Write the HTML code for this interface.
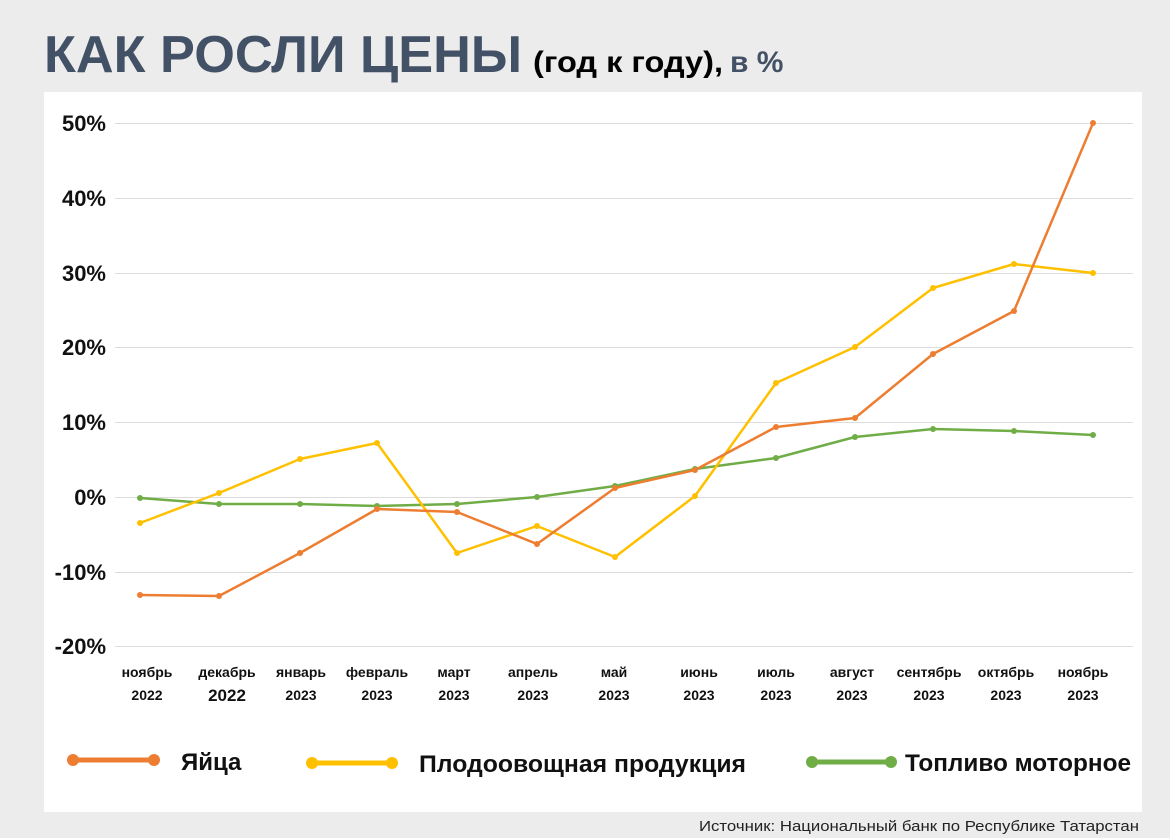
<!DOCTYPE html>
<html><head><meta charset="utf-8"><style>
html,body{margin:0;padding:0;}
body{width:1170px;height:838px;background:#ececec;overflow:hidden;position:relative;font-family:"Liberation Sans","Noto Sans CJK SC",sans-serif;}
</style></head><body>
<svg width="1170" height="838" viewBox="0 0 1170 838" xmlns="http://www.w3.org/2000/svg" style="position:absolute;left:0;top:0">
<rect x="44" y="92" width="1098" height="720" fill="#fff"/>
<text x="44" y="72" font-family="Liberation Sans, sans-serif" font-weight="bold" font-size="52" fill="#435166" textLength="478" lengthAdjust="spacingAndGlyphs">КАК РОСЛИ ЦЕНЫ</text>
<text x="533" y="72" font-family="Liberation Sans, sans-serif" font-weight="bold" font-size="30" fill="#000" textLength="190" lengthAdjust="spacingAndGlyphs">(год к году),</text>
<text x="730" y="72" font-family="Liberation Sans, sans-serif" font-weight="bold" font-size="30" fill="#435166">в %</text>
<g stroke="#dcdcdc" stroke-width="1">
<line x1="115" x2="1133" y1="123.5" y2="123.5"/><line x1="115" x2="1133" y1="198.5" y2="198.5"/>
<line x1="115" x2="1133" y1="273.5" y2="273.5"/><line x1="115" x2="1133" y1="347.5" y2="347.5"/>
<line x1="115" x2="1133" y1="422.5" y2="422.5"/><line x1="115" x2="1133" y1="497.5" y2="497.5"/>
<line x1="115" x2="1133" y1="572.5" y2="572.5"/><line x1="115" x2="1133" y1="646.5" y2="646.5"/>
</g>
<g font-family="Liberation Sans, sans-serif" font-weight="bold" font-size="22" fill="#111" text-anchor="end">
<text x="106" y="131">50%</text><text x="106" y="206">40%</text><text x="106" y="281">30%</text>
<text x="106" y="355">20%</text><text x="106" y="430">10%</text><text x="106" y="505">0%</text>
<text x="106" y="580">-10%</text><text x="106" y="654">-20%</text>
</g>
<g font-family="Liberation Sans, sans-serif" font-weight="bold" font-size="14" fill="#111" text-anchor="middle">
<text x="147" y="677">ноябрь</text><text x="147" y="700">2022</text>
<text x="227" y="677">декабрь</text><text x="227" y="701" font-size="17">2022</text>
<text x="301" y="677">январь</text><text x="301" y="700">2023</text>
<text x="377" y="677">февраль</text><text x="377" y="700">2023</text>
<text x="454" y="677">март</text><text x="454" y="700">2023</text>
<text x="533" y="677">апрель</text><text x="533" y="700">2023</text>
<text x="614" y="677">май</text><text x="614" y="700">2023</text>
<text x="699" y="677">июнь</text><text x="699" y="700">2023</text>
<text x="776" y="677">июль</text><text x="776" y="700">2023</text>
<text x="852" y="677">август</text><text x="852" y="700">2023</text>
<text x="929" y="677">сентябрь</text><text x="929" y="700">2023</text>
<text x="1006" y="677">октябрь</text><text x="1006" y="700">2023</text>
<text x="1083" y="677">ноябрь</text><text x="1083" y="700">2023</text>
</g>
<g fill="none" stroke-width="2.5" stroke-linejoin="round">
<polyline stroke="#70ad47" points="140,498 219,504 300,504 377,506 457,504 537,497 615,486 695,469 776,458 855,437 933,429 1014,431 1093,435"/>
<polyline stroke="#ffc000" points="140,523 219,493 300,459 377,443 457,553 537,526 615,557 695,496 776,383 855,347 933,288 1014,264 1093,273"/>
<polyline stroke="#ed7d31" points="140,595 219,596 300,553 377,509 457,512 537,544 615,488 695,470 776,427 855,418 933,354 1014,311 1093,123"/>
</g>
<g fill="#70ad47"><circle cx="140" cy="498" r="3"/><circle cx="219" cy="504" r="3"/><circle cx="300" cy="504" r="3"/><circle cx="377" cy="506" r="3"/><circle cx="457" cy="504" r="3"/><circle cx="537" cy="497" r="3"/><circle cx="615" cy="486" r="3"/><circle cx="695" cy="469" r="3"/><circle cx="776" cy="458" r="3"/><circle cx="855" cy="437" r="3"/><circle cx="933" cy="429" r="3"/><circle cx="1014" cy="431" r="3"/><circle cx="1093" cy="435" r="3"/></g>
<g fill="#ffc000"><circle cx="140" cy="523" r="3"/><circle cx="219" cy="493" r="3"/><circle cx="300" cy="459" r="3"/><circle cx="377" cy="443" r="3"/><circle cx="457" cy="553" r="3"/><circle cx="537" cy="526" r="3"/><circle cx="615" cy="557" r="3"/><circle cx="695" cy="496" r="3"/><circle cx="776" cy="383" r="3"/><circle cx="855" cy="347" r="3"/><circle cx="933" cy="288" r="3"/><circle cx="1014" cy="264" r="3"/><circle cx="1093" cy="273" r="3"/></g>
<g fill="#ed7d31"><circle cx="140" cy="595" r="3"/><circle cx="219" cy="596" r="3"/><circle cx="300" cy="553" r="3"/><circle cx="377" cy="509" r="3"/><circle cx="457" cy="512" r="3"/><circle cx="537" cy="544" r="3"/><circle cx="615" cy="488" r="3"/><circle cx="695" cy="470" r="3"/><circle cx="776" cy="427" r="3"/><circle cx="855" cy="418" r="3"/><circle cx="933" cy="354" r="3"/><circle cx="1014" cy="311" r="3"/><circle cx="1093" cy="123" r="3"/></g>
<g stroke-width="5" stroke-linecap="round">
<line x1="73" y1="760" x2="154" y2="760" stroke="#ed7d31"/><circle cx="73" cy="760" r="6" fill="#ed7d31"/><circle cx="154" cy="760" r="6" fill="#ed7d31"/>
<line x1="312" y1="763" x2="392" y2="763" stroke="#ffc000"/><circle cx="312" cy="763" r="6" fill="#ffc000"/><circle cx="392" cy="763" r="6" fill="#ffc000"/>
<line x1="812" y1="762" x2="891" y2="762" stroke="#70ad47"/><circle cx="812" cy="762" r="6" fill="#70ad47"/><circle cx="891" cy="762" r="6" fill="#70ad47"/>
</g>
<g font-family="Liberation Sans, sans-serif" font-weight="bold" font-size="24" fill="#111">
<text x="181" y="770">Яйца</text>
<text x="419" y="772" textLength="327" lengthAdjust="spacingAndGlyphs">Плодоовощная продукция</text>
<text x="905" y="771" textLength="226" lengthAdjust="spacingAndGlyphs">Топливо моторное</text>
</g>
<text x="1139" y="831" text-anchor="end" font-family="Liberation Sans, sans-serif" font-size="15" fill="#222" textLength="440" lengthAdjust="spacingAndGlyphs">Источник: Национальный банк по Республике Татарстан</text>
</svg>
</body></html>
